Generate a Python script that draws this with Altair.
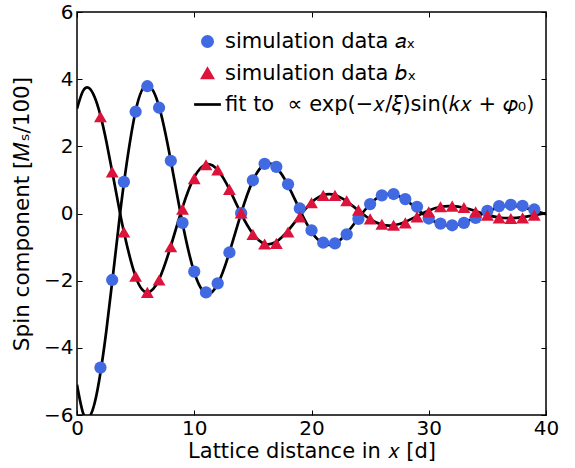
import altair as alt
import pandas as pd

# ---- data ----
x_data = list(range(2, 40))
a_x = [-4.59, -1.98, 0.94, 3.03, 3.79, 3.15, 1.57, -0.28, -1.73, -2.35,
       -2.08, -1.16, 0.01, 0.99, 1.48, 1.39, 0.87, 0.15, -0.50, -0.87,
       -0.89, -0.62, -0.16, 0.28, 0.54, 0.58, 0.43, 0.20, -0.15, -0.30,
       -0.35, -0.28, -0.13, 0.08, 0.22, 0.26, 0.23, 0.12]
b_x = [2.88, 1.24, -0.55, -1.87, -2.35, -1.98, -0.99, 0.13, 1.04, 1.45,
       1.30, 0.72, 0.02, -0.62, -0.91, -0.89, -0.55, -0.10, 0.32, 0.54,
       0.54, 0.38, 0.10, -0.16, -0.32, -0.35, -0.28, -0.10, 0.05, 0.20,
       0.22, 0.18, 0.05, -0.05, -0.13, -0.15, -0.13, -0.05]

# fitted curves, sampled off the drawn lines
fit_x = [0, 0.5, 1, 1.5, 2, 2.5, 3, 3.5, 4] + list(range(5, 41))
fit_a = [-5.10, -5.92, -6.08, -5.65, -4.74, -3.50, -2.04, -0.53, 0.90,
         3.05, 3.82, 3.18, 1.57, -0.29, -1.75, -2.38, -2.10, -1.16, 0.01,
         0.98, 1.46, 1.37, 0.84, 0.11, -0.54, -0.89, -0.89, -0.59, -0.14,
         0.28, 0.54, 0.57, 0.41, 0.13, -0.14, -0.32, -0.36, -0.28, -0.11,
         0.06, 0.19, 0.23, 0.19, 0.09, -0.02]
fit_b = [3.12, 3.64, 3.74, 3.47, 2.92, 2.15, 1.25, 0.33, -0.55,
         -1.88, -2.35, -1.96, -0.97, 0.18, 1.08, 1.46, 1.29, 0.72, -0.01,
         -0.60, -0.90, -0.84, -0.51, -0.07, 0.33, 0.55, 0.55, 0.36, 0.09,
         -0.17, -0.33, -0.35, -0.25, -0.08, 0.09, 0.20, 0.22, 0.17, 0.07,
         -0.04, -0.12, -0.14, -0.11, -0.05, 0.01]

x_ticks = [0, 10, 20, 30, 40]
y_ticks = [-6, -4, -2, 0, 2, 4, 6]

LBL_A = "simulation data 𝑎ₓ"
LBL_B = "simulation data 𝑏ₓ"
LBL_FIT = "fit to\u00a0 ∝ exp(−𝑥/𝜉)sin(𝑘𝑥 + 𝜑₀)"
series = [LBL_A, LBL_B, LBL_FIT]
colors = ["#4169e1", "#dc143c", "black"]
shapes = ["circle", "triangle-up", "M-2.6,0L2.6,0"]

pa = pd.DataFrame({"x": x_data, "y": a_x, "series": LBL_A})
pb = pd.DataFrame({"x": x_data, "y": b_x, "series": LBL_B})
n = len(fit_x)
fit = pd.DataFrame({"x": fit_x + fit_x, "y": fit_a + fit_b,
                    "curve": ["a"] * n + ["b"] * n, "series": LBL_FIT})

FONT = "DejaVu Sans"
xs = alt.Scale(domain=[0, 40], nice=False, zero=False)
ys = alt.Scale(domain=[-6, 6], nice=False, zero=False)
col_scale = alt.Scale(domain=series, range=colors)
shp_scale = alt.Scale(domain=series, range=shapes)

legend = alt.Legend(title=None, orient="none", legendX=120, legendY=19,
                    padding=0, labelFont=FONT, labelFontSize=21,
                    labelColor="black", labelLimit=500, symbolSize=106,
                    symbolStrokeWidth=2.7, rowPadding=9, labelOffset=7)

common_ax = dict(offset=-5, tickSize=5, tickColor="black", tickWidth=1,
                 domain=False, grid=False, labelFont=FONT, labelFontSize=20,
                 labelColor="black", titleFont=FONT,
                 titleFontWeight="normal", titleColor="black")

bottom_axis = alt.Axis(orient="bottom", values=x_ticks, labelPadding=3,
                       title="Lattice distance in 𝑥 [d]", titlePadding=2,
                       titleFontSize=21, labelFlush=False, **common_ax)
left_axis = alt.Axis(orient="left", values=y_ticks, labelPadding=4,
                     title="Spin component [𝑀ₛ/100]", titlePadding=10,
                     titleFontSize=21.5, labelFlush=False, **common_ax)
top_axis = alt.Axis(orient="top", values=x_ticks, labels=False, title=None,
                    offset=-5, tickSize=5, tickColor="black", tickWidth=1,
                    domain=False, grid=False)
right_axis = alt.Axis(orient="right", values=y_ticks, labels=False, title=None,
                      offset=-5, tickSize=5, tickColor="black", tickWidth=1,
                      domain=False, grid=False)

lines = alt.Chart(fit).mark_line(strokeWidth=2.7, interpolate="natural",
                                 clip=True).encode(
    x=alt.X("x:Q", scale=xs, axis=bottom_axis),
    y=alt.Y("y:Q", scale=ys, axis=left_axis),
    stroke=alt.Stroke("series:N", scale=col_scale, legend=legend),
    detail="curve:N",
)

pts_a = alt.Chart(pa).mark_point(filled=True, size=150, opacity=1).encode(
    x=alt.X("x:Q", scale=xs, axis=top_axis),
    y=alt.Y("y:Q", scale=ys, axis=right_axis),
    fill=alt.Fill("series:N", scale=col_scale, legend=legend),
    shape=alt.Shape("series:N", scale=shp_scale, legend=legend),
)

pts_b = alt.Chart(pb).mark_point(filled=True, size=165, opacity=1).encode(
    x=alt.X("x:Q", scale=xs, axis=None),
    y=alt.Y("y:Q", scale=ys, axis=None),
    fill=alt.Fill("series:N", scale=col_scale, legend=legend),
    shape=alt.Shape("series:N", scale=shp_scale, legend=legend),
)

chart = alt.layer(lines, pts_a, pts_b).resolve_axis(
    x="independent", y="independent"
).properties(
    width=469, height=403,
    autosize=alt.AutoSizeParams(type="none"),
    padding={"left": 77, "top": 12, "right": 29, "bottom": 53},
    background="white",
).configure_view(stroke="black", strokeWidth=1.5)

chart.save("out.html", embed_options={"renderer": "svg", "actions": False})
